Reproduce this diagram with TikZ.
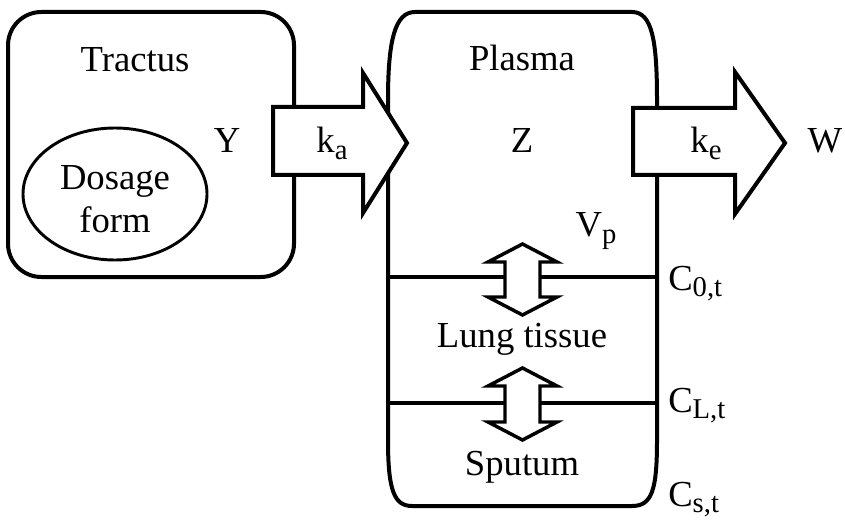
\documentclass[tikz,border=0pt]{standalone}
\usepackage{fontspec}
\setmainfont{Liberation Serif}
\usetikzlibrary{shapes.geometric}
\newcommand\sbx[1]{\raisebox{-0.18em}{\fontsize{21.5}{24}\selectfont #1}}
\begin{document}
\begin{tikzpicture}[x=0.75pt,y=-0.75pt,
  lbl/.style={inner sep=0pt,anchor=base,font=\fontsize{27.5}{32}\selectfont},
  boxline/.style={line width=3pt,line join=round},
  bigarrow/.style={line width=3pt,fill=white,line join=miter},
  dblarrow/.style={line width=2.6pt,fill=white,line join=miter}]
\useasboundingbox (0,0) rectangle (845,520);
% Tractus box
\draw[boxline,rounded corners=25pt] (8,12) rectangle (294,277);
\node[draw,ellipse,line width=2.2pt,minimum width=138pt,minimum height=99pt,inner sep=0pt] (dose) at (115,194) {};
% Plasma box
\draw[boxline] (415,12) -- (632,12) .. controls (652,12) and (657,40) .. (657,100) -- (657,440)
  .. controls (657,490) and (652,506) .. (632,506) -- (412,506)
  .. controls (394,506) and (388,490) .. (388,440) -- (388,100)
  .. controls (388,40) and (395,12) .. (415,12) -- cycle;
\coordinate (l1a) at (388,277); \coordinate (l1b) at (657,277);
\coordinate (l2a) at (388,403); \coordinate (l2b) at (657,403);
\draw[boxline] (l1a) -- (l1b);
\draw[boxline] (l2a) -- (l2b);
% big arrows
\draw[bigarrow] (273,107) -- (363,107) -- (363,73) -- (407,143) -- (363,213) -- (363,175) -- (273,175) -- cycle;
\draw[bigarrow] (633,108) -- (735,108) -- (735,72) -- (785,143) -- (735,214) -- (735,175) -- (633,175) -- cycle;
% double arrows
\draw[dblarrow] (522.5,244) -- (557,262) -- (540,262) -- (540,297) -- (557,297) -- (522.5,315) -- (488,297) -- (505,297) -- (505,262) -- (488,262) -- cycle;
\draw[dblarrow] (522.5,368) -- (557,386) -- (540,386) -- (540,422) -- (557,422) -- (522.5,440) -- (488,422) -- (505,422) -- (505,386) -- (488,386) -- cycle;
% labels
\node[lbl] (tractus) at (135,72) {Tractus};
\node[lbl] (dosage) at (115,190) {Dosage};
\node[lbl] (form) at (115,233) {form};
\node[lbl] (Y) at (227,153) {Y};
\node[lbl] (ka) at (332,153) {k\sbx{a}};
\node[lbl] (plasma) at (522,71) {Plasma};
\node[lbl] (Z) at (522,153) {Z};
\node[lbl] (ke) at (706,153) {k\sbx{e}};
\node[lbl] (W) at (825,153) {W};
\node[lbl] (Vp) at (596,237) {V\sbx{p}};
\node[lbl] (lung) at (522,347) {Lung tissue};
\node[lbl] (sputum) at (522,475) {Sputum};
\node[lbl,anchor=base west] (C0) at (668,290) {C\sbx{0,t}};
\node[lbl,anchor=base west] (CL) at (668,412) {C\sbx{L,t}};
\node[lbl,anchor=base west] (Cs) at (668,506) {C\sbx{s,t}};
\end{tikzpicture}
\end{document}
